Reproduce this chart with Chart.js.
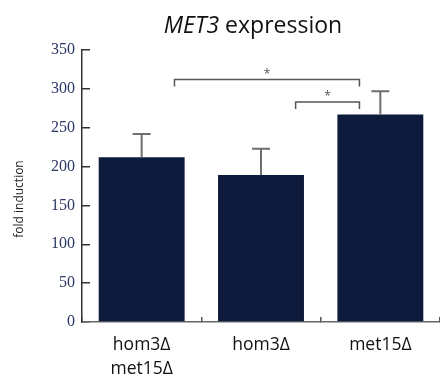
<!DOCTYPE html>
<html>
<head>
<meta charset="utf-8">
<script src="https://cdn.jsdelivr.net/npm/chart.js@4.4.1/dist/chart.umd.min.js"></script>
<style>
  html, body { margin: 0; padding: 0; background: #fff; }
  #wrap { width: 440px; height: 377px; position: relative; }
</style>
</head>
<body>
<div id="wrap"><canvas id="c" width="440" height="377"></canvas></div>
<script>
const categories = [["hom3Δ", "met15Δ"], ["hom3Δ"], ["met15Δ"]];
const foldInduction = [212, 189, 267];
const errorUpper = [30, 34, 30];
const yTicks = [0, 50, 100, 150, 200, 250, 300, 350];
// brackets: [xFrom, xTo (category index units), yLine, yLegBottom, label]
const bracketFrom = [0.275, 1.29];
const bracketTo = [1.825, 1.825];
const bracketLevel = [312, 283];
const bracketLegEnd = [303, 274];
const bracketLabel = ["*", "*"];
const titleItalic = "MET3";
const titleRest = " expression";
const yTitle = "fold induction";

const overlay = {
  id: 'overlay',
  afterDatasetsDraw(chart) {
    const ctx = chart.ctx;
    const xs = chart.scales.x, ys = chart.scales.y;
    ctx.save();
    // error bars
    ctx.strokeStyle = '#6e6e6e';
    ctx.lineWidth = 2;
    foldInduction.forEach((v, i) => {
      const x = xs.getPixelForValue(i);
      const y0 = ys.getPixelForValue(v);
      const y1 = ys.getPixelForValue(v + errorUpper[i]);
      ctx.beginPath();
      ctx.moveTo(x, y0); ctx.lineTo(x, y1);
      ctx.moveTo(x - 9, y1); ctx.lineTo(x + 9, y1);
      ctx.stroke();
    });
    // brackets
    ctx.strokeStyle = '#555';
    ctx.lineWidth = 1.5;
    ctx.fillStyle = '#555';
    ctx.font = '12px "Open Sans"';
    ctx.textAlign = 'center';
    ctx.textBaseline = 'middle';
    bracketFrom.forEach((f, i) => {
      const xa = xs.getPixelForValue(f);
      const xb = xs.getPixelForValue(bracketTo[i]);
      const yl = ys.getPixelForValue(bracketLevel[i]);
      const ye = ys.getPixelForValue(bracketLegEnd[i]);
      ctx.beginPath();
      ctx.moveTo(xa, ye); ctx.lineTo(xa, yl); ctx.lineTo(xb, yl); ctx.lineTo(xb, ye);
      ctx.stroke();
      ctx.fillText(bracketLabel[i], (xa + xb) / 2, yl - 5);
    });
    ctx.restore();
  },
  afterDraw(chart) {
    const ctx = chart.ctx;
    ctx.save();
    // title
    ctx.fillStyle = '#111';
    ctx.textBaseline = 'alphabetic';
    ctx.font = 'italic 23px "Open Sans"';
    const w1 = ctx.measureText(titleItalic).width;
    ctx.font = '23px "Open Sans"';
    const w2 = ctx.measureText(titleRest).width;
    const cx = 253;
    let x0 = cx - (w1 + w2) / 2;
    ctx.textAlign = 'left';
    ctx.font = 'italic 23px "Open Sans"';
    ctx.fillText(titleItalic, x0, 33);
    ctx.font = '23px "Open Sans"';
    ctx.fillText(titleRest, x0 + w1, 33);
    // y axis title
    ctx.translate(20, 199);
    ctx.rotate(-Math.PI / 2);
    ctx.textAlign = 'center';
    ctx.textBaseline = 'middle';
    ctx.font = '12px "Open Sans"';
    ctx.fillStyle = '#222';
    ctx.fillText(yTitle, 0, 0);
    ctx.restore();
  }
};

new Chart(document.getElementById('c'), {
  type: 'bar',
  data: {
    labels: categories,
    datasets: [{
      data: foldInduction,
      backgroundColor: '#0e1a3c',
      borderWidth: 0,
      categoryPercentage: 0.72,
      barPercentage: 1.0
    }]
  },
  options: {
    responsive: false,
    animation: false,
    layout: { padding: { top: 50, left: 0, right: 0, bottom: 0 } },
    plugins: { legend: { display: false }, tooltip: { enabled: false }, title: { display: false } },
    scales: {
      x: {
        grid: { display: true, drawOnChartArea: false, offset: true, tickLength: -5, color: '#555', lineWidth: 1.5 },
        border: { display: true, color: '#666', width: 1.5 },
        ticks: { color: '#111', font: { family: 'Open Sans', size: 17.5, lineHeight: 1.371 }, padding: 16, maxRotation: 0, autoSkip: false },
        afterFit(s) { s.height = 55; }
      },
      y: {
        min: 0, max: 350,
        afterBuildTicks(s) { s.ticks = yTicks.map(v => ({ value: v })); },
        grid: { display: true, drawOnChartArea: false, tickLength: -8, color: '#333', lineWidth: 1.5 },
        border: { display: true, color: '#333', width: 1.5 },
        ticks: { color: '#2b3763', font: { family: 'Liberation Serif', size: 16 }, padding: 15 },
        afterFit(s) { s.width = 82; }
      }
    }
  },
  plugins: [overlay]
});
</script>
</body>
</html>
